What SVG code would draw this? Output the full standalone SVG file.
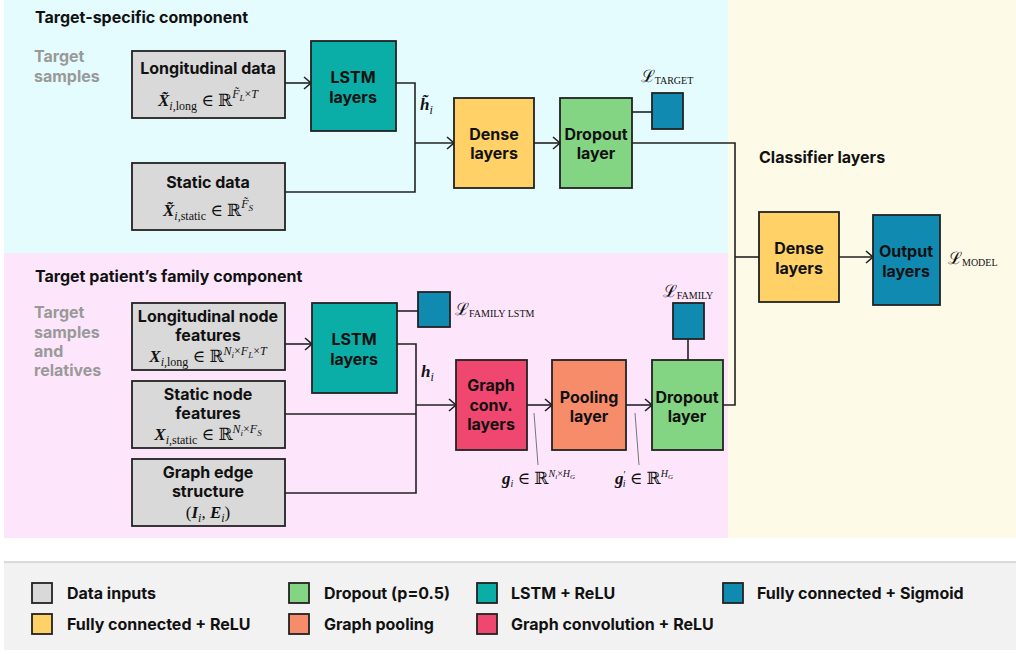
<svg xmlns="http://www.w3.org/2000/svg" width="1016" height="654" viewBox="0 0 1016 654">
<defs>
<style>
.t{font-family:Inter,"Liberation Sans",sans-serif;font-weight:700;fill:#111;}
.b{font-size:16px;text-anchor:middle;}
.h{font-size:16px;}
.g{font-size:16px;fill:#999;}
.lg{font-size:16px;}
.m{font-family:"Liberation Serif","DejaVu Serif",serif;font-size:17px;fill:#111;}
.bi{font-weight:bold;font-style:italic;}
.it{font-style:italic;}
.box{stroke:#222;stroke-width:1.8;}
.in{fill:#d9d9d9;}
.ls{fill:#0aaea6;}
.de{fill:#ffd166;}
.dr{fill:#83d483;}
.fc{fill:#118ab2;}
.gc{fill:#ef476f;}
.po{fill:#f78c6b;}
.c{fill:none;stroke:#222;stroke-width:1.6;}
.a{marker-end:url(#arr);}
.an{fill:none;stroke:#555;stroke-width:0.8;}
</style>
<marker id="arr" markerWidth="10" markerHeight="14" refX="8" refY="7" orient="auto" markerUnits="userSpaceOnUse"><path d="M1,1 L8,7 L1,13" fill="none" stroke="#222" stroke-width="1.6"/></marker>
</defs>
<rect width="1016" height="654" fill="#ffffff"/>
<g id="backgrounds">
<rect x="4" y="0" width="724" height="253" fill="#e5fcfe"/>
<rect x="4" y="253" width="724" height="285" fill="#fde6fc"/>
<rect x="728" y="0" width="288" height="538" fill="#fefae8"/>
<rect x="4" y="562" width="1012" height="88" fill="#f2f2f2"/>
<line x1="4" y1="562" x2="1016" y2="562" stroke="#bbb" stroke-width="1"/>
</g>
<g id="titles">
<text class="t h" x="35" y="23">Target-specific component</text>
<text class="t h" x="35" y="282">Target patient’s family component</text>
<text class="t h" x="759" y="163">Classifier layers</text>
<text class="t g" x="34" y="62">Target</text>
<text class="t g" x="34" y="82">samples</text>
<text class="t g" x="34" y="318">Target</text>
<text class="t g" x="34" y="338">samples</text>
<text class="t g" x="34" y="357">and</text>
<text class="t g" x="34" y="376">relatives</text>
</g>
<g id="connectors">
<path class="c a" d="M285,83 H311"/>
<path class="c" d="M396,83 H415 V192 H285"/>
<path class="c a" d="M415,143 H454"/>
<path class="c a" d="M534,143 H560"/>
<path class="c" d="M632,112 H652"/>
<path class="c" d="M632,143 H735 V405 H723"/>
<path class="c" d="M735,257 H759"/>
<path class="c a" d="M839,257 H873"/>
<path class="c a" d="M285,344 H312"/>
<path class="c" d="M397,311 H418"/>
<path class="c" d="M397,344 H416 V493 H285"/>
<path class="c" d="M285,414 H416"/>
<path class="c a" d="M416,405 H456"/>
<path class="c a" d="M527,405 H552"/>
<path class="c a" d="M626,405 H652"/>
<path class="c" d="M688,339 V360"/>
<path class="an" d="M534,413 L538,465"/>
<path class="an" d="M635,413 L639,465"/>
</g>
<g id="long-data">
<rect class="box in" x="132" y="51" width="153" height="67"/>
<text class="t b" x="208" y="74">Longitudinal data</text>
<text class="m" x="208" y="106" text-anchor="middle"><tspan class="bi">X̃</tspan><tspan font-size="12" dy="4"><tspan class="it">i</tspan>,long</tspan><tspan dy="-4"> ∈ ℝ</tspan><tspan font-size="12" dy="-8" class="it">F̃</tspan><tspan font-size="9" dy="3" class="it">L</tspan><tspan font-size="12" dy="-3">×<tspan class="it">T</tspan></tspan></text>
</g>
<g id="static-data">
<rect class="box in" x="132" y="163" width="153" height="67"/>
<text class="t b" x="208" y="188">Static data</text>
<text class="m" x="208" y="216" text-anchor="middle"><tspan class="bi">X̃</tspan><tspan font-size="12" dy="4"><tspan class="it">i</tspan>,static</tspan><tspan dy="-4"> ∈ ℝ</tspan><tspan font-size="12" dy="-8" class="it">F̃</tspan><tspan font-size="9" dy="3" class="it">S</tspan></text>
</g>
<g id="lstm-target">
<rect class="box ls" x="311" y="41" width="85" height="90"/>
<text class="t b" x="353" y="83">LSTM</text>
<text class="t b" x="353" y="103">layers</text>
</g>
<text class="m" x="420" y="110"><tspan class="bi">h̃</tspan><tspan font-size="12" dy="4" class="it">i</tspan></text>
<g id="dense-target">
<rect class="box de" x="454" y="98" width="80" height="90"/>
<text class="t b" x="494" y="140">Dense</text>
<text class="t b" x="494" y="159">layers</text>
</g>
<g id="dropout-target">
<rect class="box dr" x="560" y="98" width="72" height="90"/>
<text class="t b" x="596" y="140">Dropout</text>
<text class="t b" x="596" y="159">layer</text>
</g>
<g id="loss-target">
<rect class="box fc" x="652" y="93" width="31" height="36"/>
<text class="m" x="667" y="82" text-anchor="middle">ℒ<tspan font-size="10" dy="2">TARGET</tspan></text>
</g>
<g id="long-node">
<rect class="box in" x="132" y="303" width="153" height="67"/>
<text class="t b" x="208" y="322">Longitudinal node</text>
<text class="t b" x="208" y="341">features</text>
<text class="m" x="208" y="362" text-anchor="middle"><tspan class="bi">X</tspan><tspan font-size="12" dy="4"><tspan class="it">i</tspan>,long</tspan><tspan dy="-4"> ∈ ℝ</tspan><tspan font-size="12" dy="-7"><tspan class="it">N</tspan><tspan font-size="9" dy="3" class="it">i</tspan><tspan dy="-3">×</tspan><tspan class="it">F</tspan><tspan font-size="9" dy="3" class="it">L</tspan><tspan dy="-3">×</tspan><tspan class="it">T</tspan></tspan></text>
</g>
<g id="static-node">
<rect class="box in" x="132" y="381" width="153" height="67"/>
<text class="t b" x="208" y="400">Static node</text>
<text class="t b" x="208" y="419">features</text>
<text class="m" x="208" y="440" text-anchor="middle"><tspan class="bi">X</tspan><tspan font-size="12" dy="4"><tspan class="it">i</tspan>,static</tspan><tspan dy="-4"> ∈ ℝ</tspan><tspan font-size="12" dy="-7"><tspan class="it">N</tspan><tspan font-size="9" dy="3" class="it">i</tspan><tspan dy="-3">×</tspan><tspan class="it">F</tspan><tspan font-size="9" dy="3" class="it">S</tspan></tspan></text>
</g>
<g id="graph-edge">
<rect class="box in" x="132" y="459" width="153" height="67"/>
<text class="t b" x="208" y="478">Graph edge</text>
<text class="t b" x="208" y="497">structure</text>
<text class="m" x="208" y="518" text-anchor="middle">(<tspan class="bi">I</tspan><tspan font-size="12" dy="4" class="it">i</tspan><tspan dy="-4">, </tspan><tspan class="bi">E</tspan><tspan font-size="12" dy="4" class="it">i</tspan><tspan dy="-4">)</tspan></text>
</g>
<g id="lstm-family">
<rect class="box ls" x="312" y="303" width="85" height="90"/>
<text class="t b" x="354" y="345">LSTM</text>
<text class="t b" x="354" y="365">layers</text>
</g>
<g id="loss-family-lstm">
<rect class="box fc" x="418" y="292" width="32" height="35"/>
<text class="m" x="455" y="315">ℒ<tspan font-size="10" dy="2">FAMILY LSTM</tspan></text>
</g>
<text class="m" x="421" y="377"><tspan class="bi">h</tspan><tspan font-size="12" dy="4" class="it">i</tspan></text>
<g id="graph-conv">
<rect class="box gc" x="456" y="360" width="71" height="90"/>
<text class="t b" x="491" y="391">Graph</text>
<text class="t b" x="491" y="411">conv.</text>
<text class="t b" x="491" y="430">layers</text>
</g>
<g id="pooling">
<rect class="box po" x="552" y="360" width="74" height="90"/>
<text class="t b" x="589" y="403">Pooling</text>
<text class="t b" x="589" y="422">layer</text>
</g>
<g id="dropout-family">
<rect class="box dr" x="652" y="360" width="71" height="90"/>
<text class="t b" x="687" y="403">Dropout</text>
<text class="t b" x="687" y="422">layer</text>
</g>
<g id="loss-family">
<rect class="box fc" x="673" y="303" width="31" height="36"/>
<text class="m" x="688" y="297" text-anchor="middle">ℒ<tspan font-size="10" dy="2">FAMILY</tspan></text>
</g>
<text class="m" x="502" y="484" font-size="14"><tspan class="bi">g</tspan><tspan font-size="10" dy="3" class="it">i</tspan><tspan dy="-3"> ∈ ℝ</tspan><tspan font-size="10" dy="-7"><tspan class="it">N</tspan><tspan font-size="7" dy="2" class="it">i</tspan><tspan dy="-2">×</tspan><tspan class="it">H</tspan><tspan font-size="7" dy="2" class="it">G</tspan></tspan></text>
<text class="m" x="615" y="484" font-size="14"><tspan class="bi">g</tspan><tspan font-size="10" dy="-6">′</tspan><tspan font-size="10" dy="9" class="it" dx="-3">i</tspan><tspan dy="-3"> ∈ ℝ</tspan><tspan font-size="10" dy="-7" class="it">H</tspan><tspan font-size="7" dy="2" class="it">G</tspan></text>
<g id="dense-classifier">
<rect class="box de" x="759" y="212" width="80" height="90"/>
<text class="t b" x="799" y="254">Dense</text>
<text class="t b" x="799" y="274">layers</text>
</g>
<g id="output">
<rect class="box fc" x="873" y="215" width="67" height="90"/>
<text class="t b" x="906" y="257">Output</text>
<text class="t b" x="906" y="277">layers</text>
</g>
<text class="m" x="948" y="264">ℒ<tspan font-size="10" dy="2">MODEL</tspan></text>
<g id="legend">
<rect class="box in" x="32" y="583" width="20" height="20" stroke-width="1.4"/>
<text class="t lg" x="67" y="599">Data inputs</text>
<rect class="box de" x="32" y="614" width="20" height="20" stroke-width="1.4"/>
<text class="t lg" x="67" y="630">Fully connected + ReLU</text>
<rect class="box dr" x="289" y="583" width="20" height="20" stroke-width="1.4"/>
<text class="t lg" x="324" y="599">Dropout (p=0.5)</text>
<rect class="box po" x="289" y="614" width="20" height="20" stroke-width="1.4"/>
<text class="t lg" x="324" y="630">Graph pooling</text>
<rect class="box ls" x="477" y="583" width="20" height="20" stroke-width="1.4"/>
<text class="t lg" x="511" y="599">LSTM + ReLU</text>
<rect class="box gc" x="477" y="614" width="20" height="20" stroke-width="1.4"/>
<text class="t lg" x="511" y="630">Graph convolution + ReLU</text>
<rect class="box fc" x="723" y="583" width="20" height="20" stroke-width="1.4"/>
<text class="t lg" x="757" y="599">Fully connected + Sigmoid</text>
</g>
</svg>
